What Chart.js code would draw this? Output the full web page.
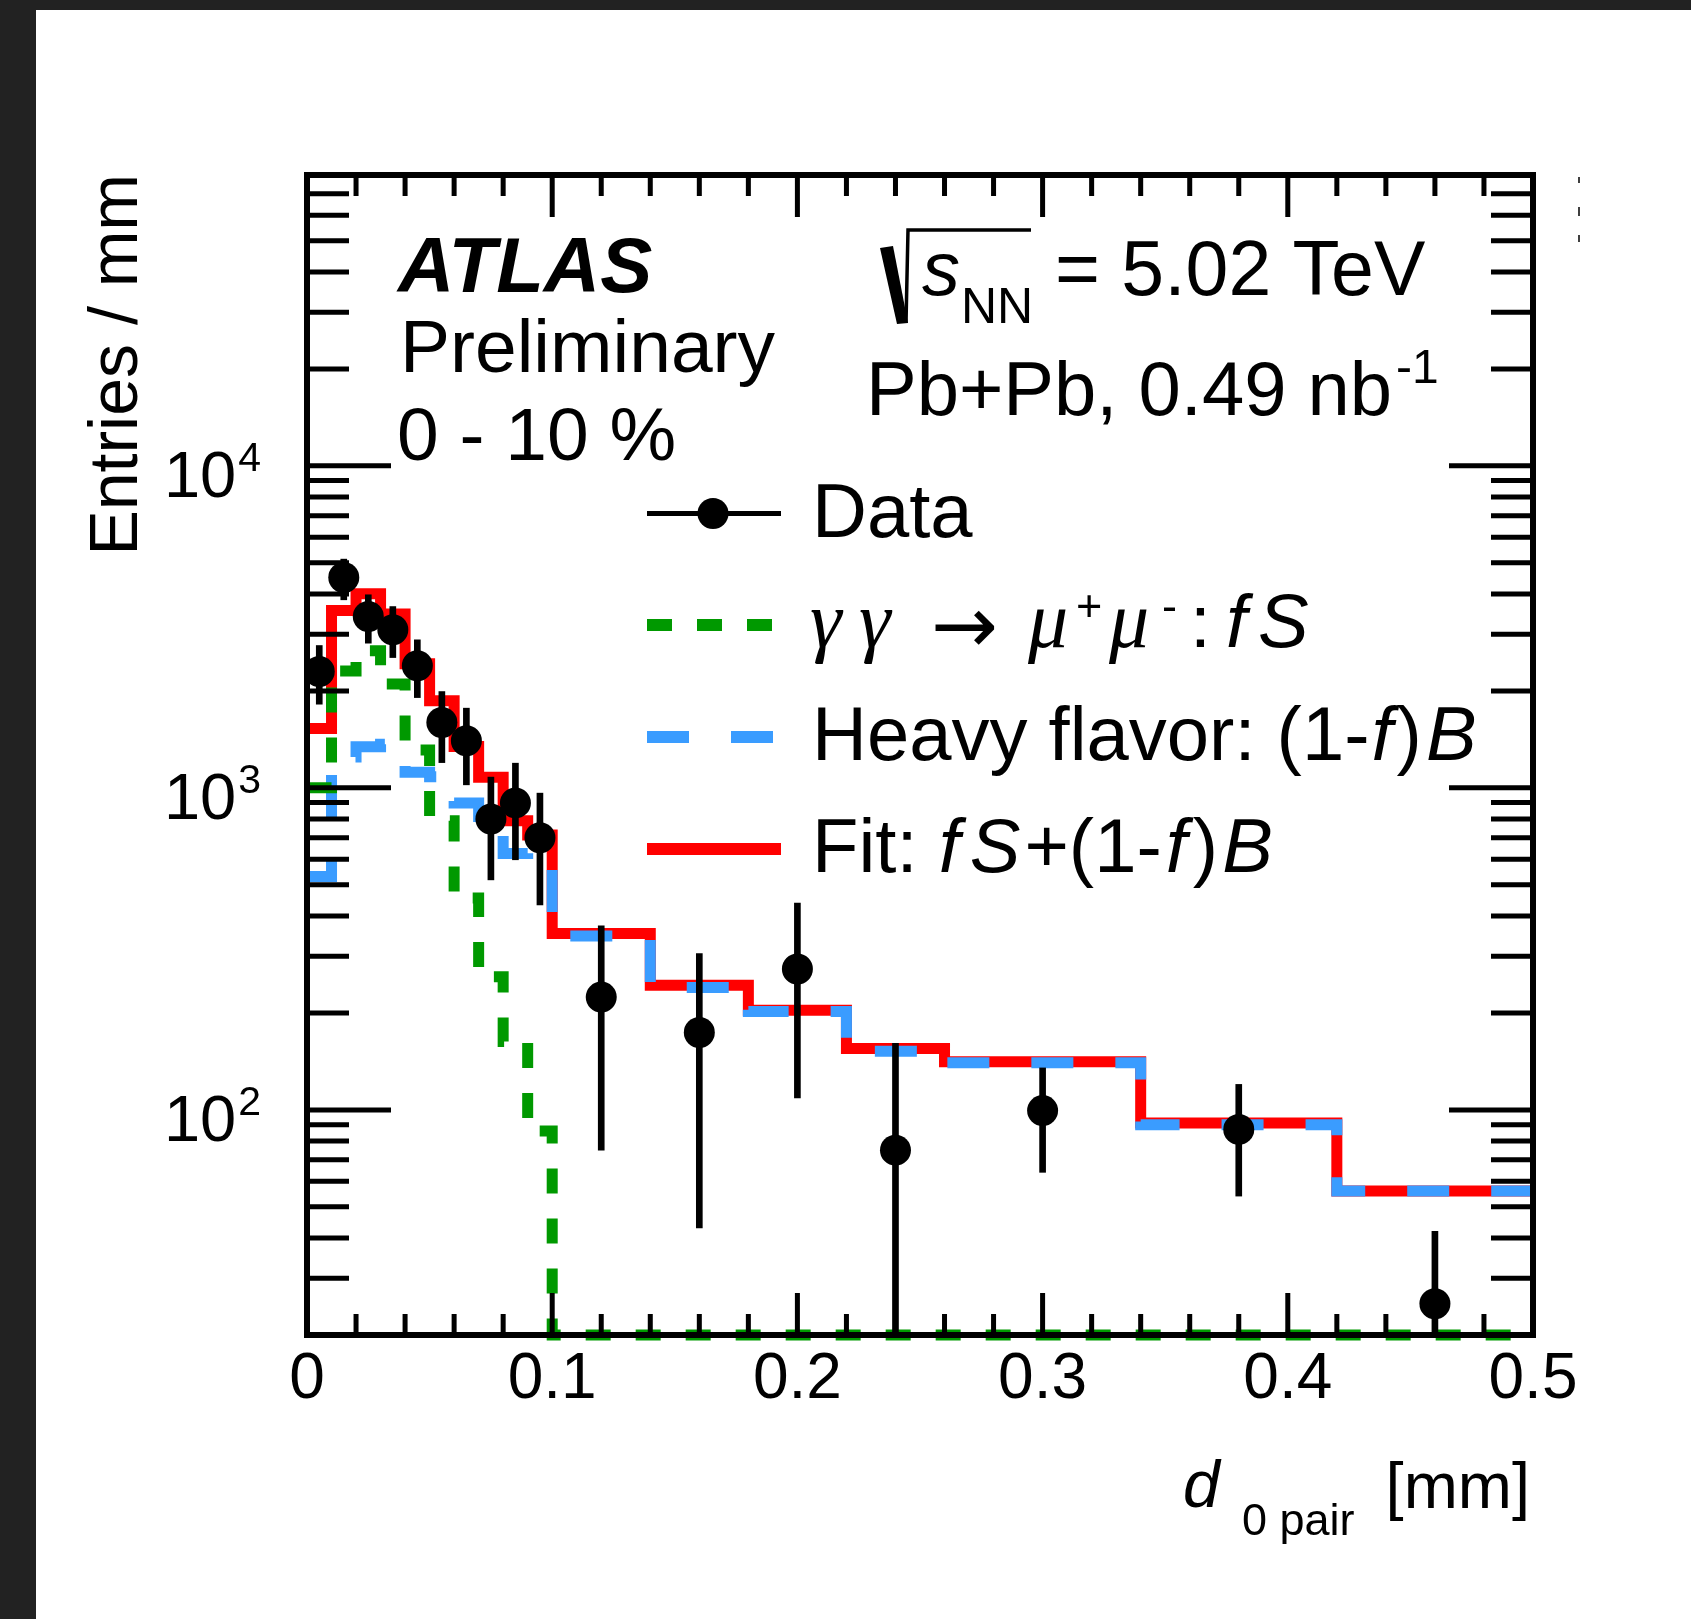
<!DOCTYPE html>
<html lang="en">
<head>
<meta charset="UTF-8">
<title>d0 pair - ATLAS Preliminary</title>
<script src="https://cdn.jsdelivr.net/npm/chart.js"></script>
<style>
    html, body { margin: 0; padding: 0; background: #222; }
    body { width: 1691px; height: 1619px; overflow: hidden; position: relative; }
    #panel { position: absolute; left: 36px; top: 10px; width: 1655px; height: 1609px; background: #fff; }
    canvas { display: block; }
</style>
</head>
<body>
<div id="panel"><canvas id="d0Chart" width="1655" height="1609"></canvas></div>
<script>
// bin edges of the d0 pair histogram [mm]
const binEdges = [0, 0.01, 0.02, 0.03, 0.04, 0.05, 0.06, 0.07, 0.08, 0.09, 0.1,
                  0.14, 0.18, 0.22, 0.26, 0.34, 0.42, 0.5];

// entries / mm, one value per bin
const fitValues    = [1528, 3556, 4005, 3469, 2427, 1863, 1344, 1079, 791, 714, 353, 244, 204, 155, 141, 91, 56];
const signalValues = [1000, 2306, 2665, 2103, 1310, 790, 455, 259, 163, 86, 0, 0, 0, 0, 0, 0, 0];
const hfValues     = [531, 1248, 1341, 1366, 1119, 1082, 898, 815, 626, 628, 347, 240, 202, 152, 140, 90, 56];

// data points with error bar ends
const dataValues  = [2297, 4500, 3405, 3098, 2395, 1596, 1400, 800, 898, 700, 224, 174, 274, 75, 99.5, 87, 25];
const dataErrLow  = [1819, 3837, 2814, 2539, 1907, 1198, 1022, 518, 598, 433, 75, 43, 109, 0, 64, 54, 0];
const dataErrHigh = [2767, 5132, 3977, 3656, 2882, 1991, 1768, 1080, 1193, 963, 373, 306, 439, 161, 135, 120, 42];

// axes
const xTickValues = [0, 0.1, 0.2, 0.3, 0.4, 0.5];
const xTickLabels = ['0', '0.1', '0.2', '0.3', '0.4', '0.5'];
const yTickValues = [100, 1000, 10000];
const yTickExponents = ['2', '3', '4'];
const yMin = 20, yMax = 80000;

const SANS = '"Liberation Sans", Arial, Helvetica, sans-serif';
const SERIF = '"Liberation Serif", "DejaVu Serif", serif';

const binCenters = dataValues.map((v, i) => (binEdges[i] + binEdges[i + 1]) / 2);

// histogram drawn as a step line through the bin edges
function stepPoints(values) {
    const pts = values.map((v, i) => ({ x: binEdges[i], y: Math.max(v, yMin) }));
    pts.push({ x: binEdges[binEdges.length - 1], y: Math.max(values[values.length - 1], yMin) });
    return pts;
}

function put(ctx, s, x, y, font, align) {
    ctx.font = font;
    ctx.textAlign = align || 'left';
    ctx.fillText(s, x, y);
    return ctx.measureText(s).width;
}

const atlasDecor = {
    id: 'atlasDecor',
    afterDatasetsDraw(chart) {
        const { ctx, chartArea: a, scales: { x, y } } = chart;
        ctx.save();
        ctx.strokeStyle = '#000';
        ctx.lineWidth = 5;
        ctx.beginPath();
        // x ticks, inward on both sides
        for (let i = 0; i <= 25; i++) {
            const px = x.getPixelForValue(i * 0.02);
            const len = i % 5 === 0 ? 42 : 21;
            ctx.moveTo(px, a.bottom); ctx.lineTo(px, a.bottom - len);
            ctx.moveTo(px, a.top); ctx.lineTo(px, a.top + len);
        }
        // y ticks (log)
        for (let e = 1; e <= 4; e++) {
            for (let m = 1; m <= 9; m++) {
                const v = m * Math.pow(10, e);
                if (v < yMin || v > yMax) continue;
                const py = y.getPixelForValue(v);
                const len = m === 1 ? 84 : 42;
                ctx.moveTo(a.left, py); ctx.lineTo(a.left + len, py);
                ctx.moveTo(a.right, py); ctx.lineTo(a.right - len, py);
            }
        }
        ctx.stroke();
        ctx.lineWidth = 6;
        ctx.strokeRect(a.left, a.top, a.right - a.left, a.bottom - a.top);
        ctx.restore();
    },
    afterDraw(chart) {
        const { ctx, chartArea: a, scales: { x, y } } = chart;
        ctx.save();
        ctx.fillStyle = '#000';
        ctx.strokeStyle = '#000';
        ctx.textBaseline = 'alphabetic';

        // tick labels
        xTickValues.forEach((v, i) => {
            put(ctx, xTickLabels[i], x.getPixelForValue(v), a.bottom + 63, '64px ' + SANS, 'center');
        });
        yTickValues.forEach((v, i) => {
            const py = y.getPixelForValue(v);
            const w = put(ctx, yTickExponents[i], a.left - 46, py + 5, '41px ' + SANS, 'right');
            put(ctx, '10', a.left - 46 - w - 2, py + 31, '65px ' + SANS, 'right');
        });

        // axis titles
        ctx.save();
        ctx.translate(101, a.top - 1);
        ctx.rotate(-Math.PI / 2);
        put(ctx, 'Entries / mm', 0, 0, '68px ' + SANS, 'right');
        ctx.restore();
        put(ctx, 'd', 1147, 1497, 'italic 66px ' + SANS);
        put(ctx, '0 pair', 1206, 1525, '45px ' + SANS);
        put(ctx, '[mm]', 1494, 1498, '65px ' + SANS, 'right');

        // labels
        put(ctx, 'ATLAS', 362, 282, 'italic bold 78px ' + SANS);
        put(ctx, 'Preliminary', 364, 362, '75px ' + SANS);
        put(ctx, '0 - 10 %', 361, 450, '75px ' + SANS);

        // sqrt(s_NN)
        ctx.beginPath();
        ctx.moveTo(844, 238); ctx.lineTo(857, 236); ctx.lineTo(872, 313); ctx.lineTo(861, 314);
        ctx.closePath(); ctx.fill();
        ctx.lineWidth = 3.5;
        ctx.beginPath();
        ctx.moveTo(870, 313); ctx.lineTo(872, 220); ctx.lineTo(995, 220);
        ctx.stroke();
        put(ctx, 's', 886, 285, 'italic 76px ' + SANS);
        put(ctx, 'NN', 925, 313, '50px ' + SANS);
        put(ctx, '= 5.02 TeV', 1019, 285, '77px ' + SANS);
        const w1 = put(ctx, 'Pb+Pb, 0.49 nb', 830, 405, '76px ' + SANS);
        put(ctx, '-1', 830 + w1 + 4, 373, '48px ' + SANS);

        // legend
        const lx0 = 611, lx1 = 745, tx = 776;
        ctx.lineWidth = 5;
        ctx.beginPath(); ctx.moveTo(lx0, 503.5); ctx.lineTo(lx1, 503.5); ctx.stroke();
        ctx.beginPath(); ctx.arc(677, 503.5, 15.5, 0, Math.PI * 2); ctx.fill();
        put(ctx, 'Data', tx, 527, '76px ' + SANS);

        ctx.lineWidth = 12;
        ctx.strokeStyle = '#009900';
        ctx.setLineDash([25, 25]);
        ctx.beginPath(); ctx.moveTo(lx0, 615); ctx.lineTo(738, 615); ctx.stroke();
        ctx.strokeStyle = '#3a9cff';
        ctx.setLineDash([42, 42]);
        ctx.beginPath(); ctx.moveTo(lx0, 727); ctx.lineTo(738, 727); ctx.stroke();
        ctx.setLineDash([]);
        ctx.strokeStyle = '#ff0000';
        ctx.beginPath(); ctx.moveTo(lx0, 839); ctx.lineTo(lx1, 839); ctx.stroke();

        const gk = 'italic 80px ' + SERIF;
        put(ctx, 'γ', 774, 637, gk);
        put(ctx, 'γ', 823, 637, gk);
        put(ctx, '→', 895, 643, '80px "DejaVu Sans", sans-serif');
        put(ctx, 'μ', 992, 637, gk);
        put(ctx, '+', 1040, 611, '45px ' + SANS);
        put(ctx, 'μ', 1073, 637, gk);
        put(ctx, '-', 1126, 611, '45px ' + SANS);
        put(ctx, ':', 1154, 637, '75px ' + SANS);
        put(ctx, 'f', 1190, 637, 'italic 75px ' + SANS);
        put(ctx, 'S', 1222, 637, 'italic 76px ' + SANS);

        let cx = tx;
        cx += put(ctx, 'Heavy flavor: (1-', cx, 750, '76px ' + SANS);
        cx += put(ctx, 'f', cx + 2, 750, 'italic 76px ' + SANS) + 6;
        cx += put(ctx, ')', cx, 750, '76px ' + SANS) + 4;
        put(ctx, 'B', cx, 750, 'italic 76px ' + SANS);

        cx = tx;
        cx += put(ctx, 'Fit: ', cx, 862, '76px ' + SANS);
        cx += put(ctx, 'f', cx, 862, 'italic 76px ' + SANS) + 10;
        cx += put(ctx, 'S', cx, 862, 'italic 76px ' + SANS) + 4;
        cx += put(ctx, '+(1-', cx, 862, '76px ' + SANS) + 4;
        cx += put(ctx, 'f', cx, 862, 'italic 76px ' + SANS) + 6;
        cx += put(ctx, ')', cx, 862, '76px ' + SANS) + 4;
        put(ctx, 'B', cx, 862, 'italic 76px ' + SANS);

        // small marks right of the frame
        ctx.strokeStyle = '#000';
        ctx.lineWidth = 1.5;
        ctx.beginPath();
        ctx.moveTo(1543, 167); ctx.lineTo(1543, 173);
        ctx.moveTo(1543, 197); ctx.lineTo(1543, 206);
        ctx.moveTo(1543, 225); ctx.lineTo(1543, 232);
        ctx.stroke();
        ctx.restore();
    }
};

const histStyle = {
    stepped: 'before',
    borderWidth: 11,
    borderCapStyle: 'butt',
    borderJoinStyle: 'miter',
    pointRadius: 0,
    fill: false
};

new Chart(document.getElementById('d0Chart'), {
    type: 'line',
    data: {
        datasets: [
            {
                label: 'Data',
                data: binCenters.map((c, i) => ({ x: c, y: dataValues[i] })),
                showLine: false,
                pointRadius: 15.5,
                pointHoverRadius: 15.5,
                pointBackgroundColor: '#000',
                pointBorderWidth: 0,
                order: 0
            },
            {
                type: 'bar',
                label: 'Data errors',
                data: binCenters.map((c, i) => ({ x: c, y: [Math.max(dataErrLow[i], 1), dataErrHigh[i]] })),
                backgroundColor: '#000',
                borderWidth: 0,
                barThickness: 6,
                order: 1
            },
            Object.assign({
                label: 'gamma gamma -> mu mu: fS',
                data: stepPoints(signalValues),
                borderColor: '#009900',
                borderDash: [25, 25],
                clip: false,
                order: 2
            }, histStyle),
            Object.assign({
                label: 'Heavy flavor: (1-f)B',
                data: stepPoints(hfValues),
                borderColor: '#3a9cff',
                borderDash: [42, 42],
                order: 3
            }, histStyle),
            Object.assign({
                label: 'Fit: fS+(1-f)B',
                data: stepPoints(fitValues),
                borderColor: '#ff0000',
                order: 4
            }, histStyle)
        ]
    },
    options: {
        responsive: false,
        animation: false,
        events: [],
        layout: { padding: { left: 0, top: 165, right: 158, bottom: 0 } },
        plugins: { legend: { display: false }, tooltip: { enabled: false } },
        scales: {
            x: {
                type: 'linear', min: 0, max: 0.5, offset: false,
                grid: { display: false }, border: { display: false }, ticks: { display: false },
                afterFit: s => { s.height = 284; }
            },
            y: {
                type: 'logarithmic', min: yMin, max: yMax,
                grid: { display: false }, border: { display: false }, ticks: { display: false },
                afterFit: s => { s.width = 271; }
            }
        }
    },
    plugins: [atlasDecor]
});
</script>
</body>
</html>
